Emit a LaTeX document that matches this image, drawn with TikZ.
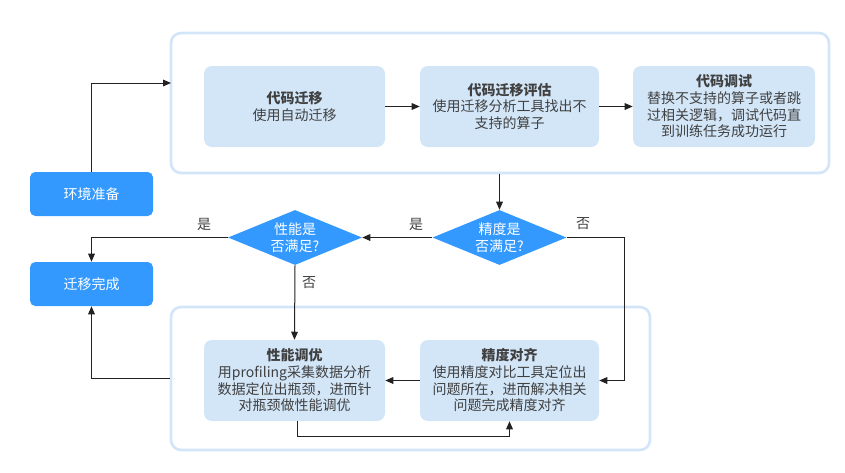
\documentclass[tikz,border=0pt]{standalone}
\usepackage{fontspec}
\setmainfont{Noto Sans CJK SC}
\usetikzlibrary{shapes.geometric,arrows.meta}
\definecolor{blueA}{HTML}{3399FF}
\definecolor{lightbox}{HTML}{D2E6F8}
\definecolor{framec}{HTML}{D3E6F9}
\definecolor{txt}{HTML}{404040}
\definecolor{linec}{HTML}{222222}
\tikzset{
  frame/.style={draw=framec, line width=2pt, rounded corners=7.5pt, fill=white},
  stepbox/.style={fill=lightbox, rounded corners=6pt, minimum height=60.75pt, align=center,
    text=txt, font=\fontsize{10.5pt}{12.5pt}\selectfont, inner sep=0pt},
  bluebox/.style={fill=blueA, rounded corners=4pt, minimum width=92.25pt, minimum height=33pt,
    text=white, font=\fontsize{10.5pt}{12.5pt}\selectfont},
  dia/.style={diamond, fill=blueA, minimum width=100.5pt, minimum height=41.25pt, inner sep=0pt},
  diatext/.style={text=white, align=center, font=\fontsize{10.5pt}{12.5pt}\selectfont},
  arr/.style={draw=linec, line width=0.75pt, -{Triangle[length=6pt,width=5pt]}},
  lbl/.style={text=txt, font=\fontsize{10.5pt}{12.5pt}\selectfont}
}
\begin{document}
\begin{tikzpicture}[x=0.75pt,y=-0.75pt]
\useasboundingbox (0,0) rectangle (845,472);
% containers
\node[frame, minimum width=493.5pt, minimum height=105pt] (top) at (500,103) {};
\node[frame, minimum width=359.25pt, minimum height=107.25pt] (bot) at (410.5,378.5) {};
% top row
\node[stepbox, minimum width=135.75pt] (mig) at (294.5,106.5) {\textbf{代码迁移}\\使用自动迁移};
\node[stepbox, minimum width=134.25pt] (eval) at (509.5,106.5) {\textbf{代码迁移评估}\\使用迁移分析工具找出不\\支持的算子};
\node[stepbox, minimum width=136.5pt] (dbg) at (724,106.5) {\textbf{代码调试}\\替换不支持的算子或者跳\\过相关逻辑，调试代码直\\到训练任务成功运行};
% bottom row
\node[stepbox, minimum width=135.75pt] (perf) at (294.5,380.5) {\textbf{性能调优}\\用profiling采集数据分析\\数据定位出瓶颈，进而针\\对瓶颈做性能调优};
\node[stepbox, minimum width=134.25pt] (acc) at (509.5,380.5) {\textbf{精度对齐}\\使用精度对比工具定位出\\问题所在，进而解决相关\\问题完成精度对齐};
% blue boxes
\node[bluebox] (env) at (91.5,194) {环境准备};
\node[bluebox] (done) at (91.5,284) {迁移完成};
% diamonds
\node[dia, label={[diatext]center:性能是\\否满足?}] (dperf) at (295,237.5) {};
\node[dia, label={[diatext]center:精度是\\否满足?}] (dacc) at (499.5,237.5) {};
% connectors
\coordinate (tin) at (171,83);
\draw[arr] (env.north) |- (tin);
\draw[arr] (mig.east) -- (eval.west);
\draw[arr] (eval.east) -- (dbg.west);
\draw[arr] (top.south -| dacc.north) -- (dacc.north);
\draw[arr] (dacc.west) -- (dperf.east);
\coordinate (rt) at (624,237.5);
\draw[arr] (dacc.east) -- (rt) |- (acc.east);
\draw[arr] (dperf.west) -| (done.north);
\draw[arr] (dperf.south) -- (perf.north);
\draw[arr] (acc.west) -- (perf.east);
\coordinate (lp) at (297,436);
\draw[arr] (lp |- perf.south) -- (lp) -| (acc.south);
\draw[arr] (bot.west) -| (done.south);
% labels
\node[lbl] (l1) at (204,224) {是};
\node[lbl] (l2) at (416,224) {是};
\node[lbl] (l3) at (583,224) {否};
\node[lbl] (l4) at (309,283) {否};
\end{tikzpicture}
\end{document}
